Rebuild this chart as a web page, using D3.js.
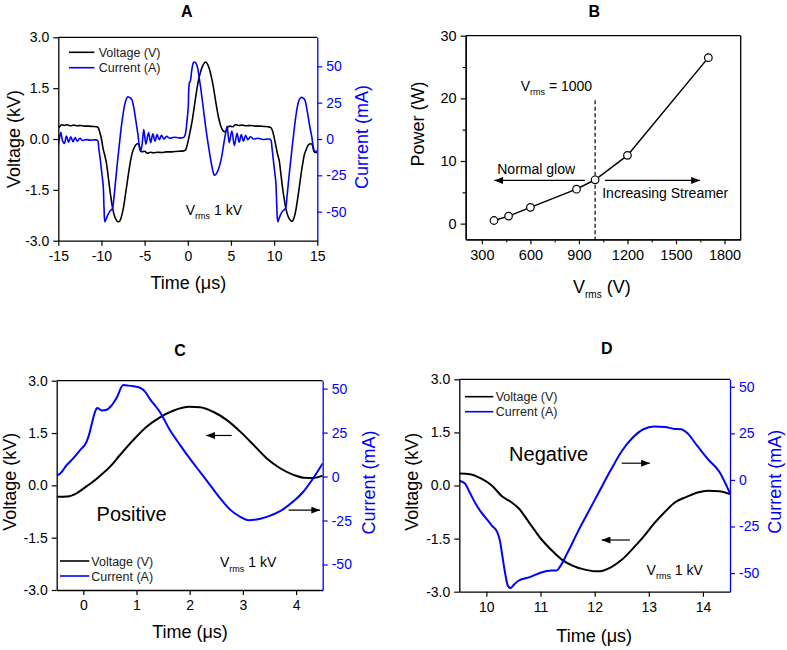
<!DOCTYPE html>
<html><head><meta charset="utf-8">
<script src="https://cdn.jsdelivr.net/npm/d3@7"></script>
<style>
body{margin:0;background:#fff;}
svg{font-family:"Liberation Sans",Arial,Helvetica,sans-serif;}
</style></head><body>
<svg id="chart" width="787" height="650"></svg>
<script>
// ---------- DATA ----------
const voltTicks = [-3, -1.5, 0, 1.5, 3];
const currTicks = [-50, -25, 0, 25, 50];
const timeTicksA = [-15, -10, -5, 0, 5, 10, 15];
const timeTicksC = [0, 1, 2, 3, 4];
const timeTicksD = [10, 11, 12, 13, 14];

const panelAVoltage = [[-15,0.33],[-14.8,0.38],[-14.6,0.42],[-14.3,0.40],[-14.0,0.42],[-13.6,0.39],[-13.2,0.41],[-12.8,0.39],[-12.4,0.40],[-12.0,0.38],[-11.5,0.38],[-11.0,0.37],[-10.6,0.36],[-10.4,0.34],[-10.2,0.2],[-10.0,0.0],[-9.8,-0.3],[-9.6,-0.5],[-9.4,-0.75],[-9.2,-1.15],[-9.0,-1.55],[-8.8,-1.9],[-8.6,-2.17],[-8.4,-2.33],[-8.2,-2.42],[-8.0,-2.44],[-7.8,-2.38],[-7.6,-2.2],[-7.4,-1.95],[-7.2,-1.6],[-7.0,-1.25],[-6.8,-0.9],[-6.6,-0.6],[-6.4,-0.38],[-6.2,-0.25],[-6.0,-0.17],[-5.8,-0.14],[-5.65,-0.17],[-5.5,-0.33],[-5.3,-0.38],[-5.0,-0.36],[-4.7,-0.42],[-4.3,-0.39],[-4.0,-0.41],[-3.5,-0.39],[-3.0,-0.40],[-2.5,-0.38],[-2.0,-0.38],[-1.5,-0.37],[-1.0,-0.36],[-0.5,-0.35],[-0.25,-0.32],[0,-0.1],[0.25,0.2],[0.5,0.53],[0.75,0.95],[1.0,1.38],[1.25,1.75],[1.5,2.0],[1.75,2.17],[2.05,2.27],[2.3,2.2],[2.55,2.02],[2.8,1.75],[3.05,1.4],[3.3,1.0],[3.55,0.65],[3.8,0.4],[4.05,0.26],[4.3,0.21],[4.5,0.26],[4.65,0.36],[4.9,0.38],[5.2,0.36],[5.5,0.42],[5.9,0.40],[6.3,0.41],[6.8,0.39],[7.3,0.40],[7.8,0.38],[8.3,0.38],[8.8,0.37],[9.3,0.36],[9.6,0.34],[9.8,0.25],[10.0,0.05],[10.2,-0.2],[10.4,-0.45],[10.6,-0.65],[10.8,-1.07],[11.0,-1.49],[11.2,-1.82],[11.4,-2.1],[11.6,-2.27],[11.8,-2.37],[12.05,-2.43],[12.3,-2.33],[12.5,-2.12],[12.7,-1.8],[12.9,-1.45],[13.1,-1.07],[13.3,-0.74],[13.5,-0.46],[13.7,-0.32],[13.9,-0.2],[14.1,-0.15],[14.3,-0.14],[14.45,-0.2],[14.6,-0.36],[14.8,-0.4],[15,-0.4]];

const panelACurrent = [[-15,-4],[-14.85,1],[-14.7,4.5],[-14.5,-1.5],[-14.3,-3],[-14.05,2],[-13.8,-2.2],[-13.55,1.5],[-13.3,-1.8],[-13.05,1],[-12.8,-1.5],[-12.5,0.5],[-12.2,-1],[-11.8,-0.4],[-11.3,-0.8],[-10.8,-0.6],[-10.45,-1],[-10.3,-7],[-10.1,-16],[-9.95,-24],[-9.8,-32],[-9.7,-48],[-9.6,-57],[-9.45,-55],[-9.25,-52],[-9.0,-49.5],[-8.75,-48],[-8.55,-40],[-8.35,-28],[-8.15,-16],[-7.95,-5],[-7.75,6],[-7.55,15],[-7.35,22.5],[-7.15,27],[-6.95,29],[-6.75,28.6],[-6.5,27.3],[-6.3,23],[-6.1,16],[-5.9,8],[-5.75,2],[-5.6,-6],[-5.48,-8.5],[-5.3,-4],[-5.1,6.5],[-4.85,-3.5],[-4.55,4.5],[-4.3,-2.5],[-4.05,3.5],[-3.8,-1.5],[-3.55,3],[-3.3,-0.5],[-3.05,2.5],[-2.75,0],[-2.45,1.8],[-2.1,0.5],[-1.6,1.2],[-1.0,0.8],[-0.5,1],[-0.3,3],[-0.1,12],[0.05,22],[0.12,35],[0.2,39],[0.3,40],[0.45,47],[0.65,52.5],[0.8,53],[1.0,51.5],[1.15,48.5],[1.3,43],[1.5,35],[1.8,21],[2.1,7],[2.4,-5],[2.7,-16],[2.95,-23],[3.1,-25],[3.3,-24],[3.6,-20],[3.9,-13],[4.15,-4],[4.35,3],[4.55,8.6],[4.8,-2.5],[5.1,5.5],[5.4,-4.5],[5.7,4],[5.95,-2.2],[6.2,3],[6.45,-1.5],[6.7,2.5],[6.95,-0.5],[7.25,1.5],[7.6,0],[8.1,0.5],[8.7,-0.3],[9.3,0],[9.6,-0.5],[9.75,-6],[9.9,-14],[10.05,-22],[10.2,-30],[10.3,-45],[10.42,-57],[10.55,-55],[10.75,-52],[11.0,-49.5],[11.3,-48],[11.5,-39],[11.7,-27],[11.9,-16],[12.1,-5],[12.3,5.5],[12.5,15],[12.7,22.5],[12.9,27],[13.1,28.6],[13.3,28.4],[13.55,27],[13.75,22],[13.95,15],[14.15,8],[14.35,2],[14.55,-6],[14.7,-8.5],[15,-8]];

const powerVrms = [375, 465, 600, 885, 1000, 1200, 1700];
const powerWatts = [0.5, 1.2, 2.6, 5.5, 7.0, 10.9, 26.5];
const powerXTicks = [300, 600, 900, 1200, 1500, 1800];
const powerXMinor = [450, 750, 1050, 1350, 1650];
const powerYTicks = [0, 10, 20, 30];
const powerYMinor = [5, 15, 25];

const panelCVoltage = [[-0.5,-0.33],[-0.3,-0.32],[-0.12,-0.22],[0.06,-0.03],[0.25,0.19],[0.31,0.27],[0.5,0.53],[0.69,0.87],[0.94,1.3],[1.19,1.68],[1.44,1.95],[1.69,2.14],[2.0,2.25],[2.19,2.24],[2.44,2.11],[2.7,1.87],[2.95,1.54],[3.2,1.16],[3.45,0.77],[3.7,0.49],[3.95,0.30],[4.14,0.22],[4.32,0.21],[4.5,0.28]];
const panelCCurrent = [[-0.5,0.6],[-0.44,1.5],[-0.31,6.6],[-0.19,10.3],[-0.06,15],[0.06,19.7],[0.11,24],[0.16,30],[0.22,36.7],[0.26,39],[0.35,37.6],[0.44,38],[0.53,40.4],[0.63,45],[0.75,52],[0.85,51.7],[0.94,51.3],[1.07,50.4],[1.16,48.3],[1.25,44.2],[1.44,36.7],[1.63,26.3],[1.82,17.9],[2.0,10.3],[2.19,2.8],[2.38,-4.7],[2.57,-12.2],[2.76,-18.8],[2.95,-22.9],[3.1,-24.8],[3.26,-24.4],[3.45,-22.9],[3.7,-19.7],[3.95,-14.1],[4.14,-8.5],[4.3,-1.9],[4.5,7.5]];

const panelDVoltage = [[9.5,0.34],[9.7,0.32],[9.9,0.2],[10.1,0.0],[10.3,-0.32],[10.45,-0.46],[10.6,-0.65],[10.8,-1.07],[11.0,-1.49],[11.2,-1.82],[11.4,-2.1],[11.6,-2.27],[11.8,-2.37],[12.0,-2.42],[12.1,-2.42],[12.3,-2.31],[12.5,-2.1],[12.7,-1.79],[12.9,-1.45],[13.1,-1.07],[13.3,-0.74],[13.5,-0.46],[13.7,-0.32],[13.9,-0.2],[14.1,-0.15],[14.3,-0.16],[14.5,-0.24]];
const panelDCurrent = [[9.5,-0.4],[9.6,-1.8],[9.7,-7.2],[9.8,-12.7],[9.9,-17.2],[10.0,-20.8],[10.1,-24.5],[10.2,-28],[10.25,-32.6],[10.3,-41.7],[10.35,-50.7],[10.4,-57],[10.45,-58],[10.5,-56.5],[10.6,-54],[10.8,-52.2],[11.0,-49.8],[11.2,-48.6],[11.3,-48.6],[11.35,-47],[11.5,-39],[11.7,-27.2],[11.9,-16.3],[12.1,-5.4],[12.3,5.4],[12.5,15.4],[12.7,22.6],[12.9,27.2],[13.1,28.6],[13.3,28.4],[13.45,27.5],[13.6,27.2],[13.7,25.4],[13.9,18.1],[14.1,10.9],[14.3,4.5],[14.5,-7.2]];

// ---------- DRAWING ----------
const svg = d3.select("#chart");
const BLUE = "#0000ff";
const FONT = "Liberation Sans, Arial, Helvetica, sans-serif";

const defs = svg.append("defs");
defs.append("marker").attr("id","arrow").attr("viewBox","0 0 10 8")
  .attr("refX",10).attr("refY",4).attr("markerWidth",9).attr("markerHeight",7)
  .attr("markerUnits","userSpaceOnUse").attr("orient","auto")
  .append("path").attr("d","M0,0L10,4L0,8Z").attr("fill","#000");

function styleAxis(g, color) {
  g.attr("font-family", FONT).attr("font-size", 14).attr("color", color);
  g.selectAll("path.domain").attr("stroke-width", 1.3);
  g.selectAll(".tick line").attr("stroke-width", 1.2);
}

function subLabel(parent, x, y, size, subSize, pre, sub, post, anchor) {
  const t = parent.append("text").attr("x", x).attr("y", y)
    .attr("font-size", size).attr("text-anchor", anchor || "start").attr("fill", "#000");
  t.append("tspan").text(pre);
  t.append("tspan").attr("font-size", subSize).attr("dy", size*0.3).text(sub);
  t.append("tspan").attr("dy", -size*0.3).text(post);
  return t;
}

function arrow(g, x1, y1, x2, y2) {
  g.append("line").attr("x1",x1).attr("y1",y1).attr("x2",x2).attr("y2",y2)
    .attr("stroke","#000").attr("stroke-width",1.2).attr("marker-end","url(#arrow)");
}

function dualPanel(o) {
  const g = svg.append("g");
  const x = d3.scaleLinear().domain(o.xDomain).range([o.l, o.r]);
  const yV = d3.scaleLinear().domain([-3, 3]).range([o.b, o.t]);
  const yI = d3.scaleLinear().domain(o.iDomain).range([o.b, o.t]);
  const clip = "clip" + o.id;
  defs.append("clipPath").attr("id", clip).append("rect")
    .attr("x", o.l).attr("y", o.t).attr("width", o.r - o.l).attr("height", o.b - o.t);

  const lineV = d3.line().x(d => x(d[0])).y(d => yV(d[1])).curve(d3.curveMonotoneX);
  const lineI = d3.line().x(d => x(d[0])).y(d => yI(d[1])).curve(o.iCurve || d3.curveMonotoneX);
  const plot = g.append("g").attr("clip-path", `url(#${clip})`);
  plot.append("path").datum(o.volt).attr("d", lineV).attr("fill","none")
    .attr("stroke","#000").attr("stroke-width", o.lw);
  plot.append("path").datum(o.curr).attr("d", lineI).attr("fill","none")
    .attr("stroke",BLUE).attr("stroke-width", o.lw);

  g.append("line").attr("x1", o.l).attr("x2", o.r).attr("y1", o.t).attr("y2", o.t)
    .attr("stroke","#000").attr("stroke-width",1.3);

  const ax = g.append("g").attr("transform", `translate(0,${o.b})`)
    .call(d3.axisBottom(x).tickValues(o.xTicks).tickSize(5).tickSizeOuter(0).tickPadding(5).tickFormat(d => String(d)));
  styleAxis(ax, "#000");
  const al = g.append("g").attr("transform", `translate(${o.l},0)`)
    .call(d3.axisLeft(yV).tickValues(voltTicks).tickSize(5).tickSizeOuter(0).tickPadding(4).tickFormat(d => d.toFixed(1)));
  styleAxis(al, "#000");
  const ar = g.append("g").attr("transform", `translate(${o.r},0)`)
    .call(d3.axisRight(yI).tickValues(currTicks).tickSize(5).tickSizeOuter(0).tickPadding(4).tickFormat(d => String(d)));
  styleAxis(ar, BLUE);

  g.append("text").attr("transform", `translate(${o.vLab[0]},${o.vLab[1]}) rotate(-90)`)
    .attr("text-anchor","middle").attr("dy","0.35em").attr("font-size",18).text("Voltage (kV)");
  g.append("text").attr("transform", `translate(${o.iLab[0]},${o.iLab[1]}) rotate(-90)`)
    .attr("text-anchor","middle").attr("dy","0.35em").attr("font-size",18).attr("fill",BLUE).text("Current (mA)");
  g.append("text").attr("x", o.tLab[0]).attr("y", o.tLab[1]).attr("text-anchor","middle")
    .attr("font-size",18).text("Time (\u03bcs)");
  g.append("text").attr("x", o.title[0]).attr("y", o.title[1]).attr("text-anchor","middle")
    .attr("font-size",16).attr("font-weight","bold").text(o.titleText);

  const L = o.legend;
  [["Voltage (V)","#000"],["Current (A)",BLUE]].forEach((it, i) => {
    const yy = L.y + i * L.dy;
    g.append("line").attr("x1", L.x1).attr("x2", L.x2).attr("y1", yy).attr("y2", yy)
      .attr("stroke", it[1]).attr("stroke-width", 1.6);
    g.append("text").attr("x", L.tx).attr("y", yy).attr("dy","0.36em")
      .attr("font-size",12.5).attr("fill","#222").text(it[0]);
  });

  subLabel(g, x(o.vrms[0]), yV(o.vrms[1]), 14, 9, "V", "rms", " 1 kV");
  return {g, x, yV, yI};
}

// Panel A
dualPanel({
  id:"A", l:58.3, r:317.3, t:37.3, b:240.7,
  xDomain:[-15,15], iDomain:[-70,70], xTicks:timeTicksA,
  volt:panelAVoltage, curr:panelACurrent, lw:1.6, iCurve:d3.curveCatmullRom.alpha(0.5),
  vLab:[13.5,139], iLab:[361.5,137], tLab:[188.3,289], title:[186.7,17], titleText:"A",
  legend:{x1:69, x2:94.3, tx:98.7, y:52.3, dy:15.4},
  vrms:[-0.24,-2.24]
});

// Panel C
const pC = dualPanel({
  id:"C", l:56.7, r:322.7, t:380.7, b:590,
  xDomain:[-0.5,4.5], iDomain:[-64.5,54.5], xTicks:timeTicksC,
  volt:panelCVoltage, curr:panelCCurrent, lw:2,
  vLab:[10,481.7], iLab:[368.3,482.5], tLab:[190,637.5], title:[180,355.5], titleText:"C",
  legend:{x1:60, x2:89.3, tx:91.3, y:561, dy:15},
  vrms:[2.57,-2.35]
});
pC.g.append("text").attr("x", pC.x(0.25)).attr("y", pC.yV(-1.02)).attr("font-size",20).text("Positive");
arrow(pC.g, pC.x(2.79), pC.yV(1.43), pC.x(2.31), pC.yV(1.43));
arrow(pC.g, pC.x(3.86), pC.yV(-0.71), pC.x(4.45), pC.yV(-0.71));

// Panel D
const pD = dualPanel({
  id:"D", l:459.3, r:730, t:379.3, b:591.7,
  xDomain:[9.5,14.5], iDomain:[-60,54], xTicks:timeTicksD,
  volt:panelDVoltage, curr:panelDCurrent, lw:2,
  vLab:[411.7,481.7], iLab:[775,481.7], tLab:[594.2,641.7], title:[606.7,354], titleText:"D",
  legend:{x1:465, x2:493.3, tx:495.7, y:396.7, dy:15},
  vrms:[12.96,-2.53]
});
pD.g.append("text").attr("x", pD.x(10.42)).attr("y", pD.yV(0.70)).attr("font-size",20).text("Negative");
arrow(pD.g, pD.x(12.5), pD.yV(0.63), pD.x(13.02), pD.yV(0.63));
arrow(pD.g, pD.x(12.65), pD.yV(-1.54), pD.x(12.13), pD.yV(-1.54));

// Panel B
(function(){
  const l=465.7, r=740.7, t=35.7, b=239.3;
  const g = svg.append("g");
  const x = d3.scaleLinear().domain([200,1900]).range([l,r]);
  const y = d3.scaleLinear().domain([-2.5,30]).range([b,t]);
  const pts = powerVrms.map((v,i)=>[v, powerWatts[i]]);

  g.append("line").attr("x1",l).attr("x2",r).attr("y1",t).attr("y2",t).attr("stroke","#000").attr("stroke-width",1.3);
  g.append("line").attr("x1",r).attr("x2",r).attr("y1",t).attr("y2",b).attr("stroke","#000").attr("stroke-width",1.3);

  const ax = g.append("g").attr("transform",`translate(0,${b})`)
    .call(d3.axisBottom(x).tickValues(powerXTicks).tickSize(5).tickSizeOuter(0).tickPadding(5).tickFormat(d=>String(d)));
  styleAxis(ax,"#000");
  ax.attr("font-size",14.5);
  const axm = g.append("g").attr("transform",`translate(0,${b})`)
    .call(d3.axisBottom(x).tickValues(powerXMinor).tickSize(3).tickSizeOuter(0).tickFormat(""));
  styleAxis(axm,"#000");
  const ay = g.append("g").attr("transform",`translate(${l},0)`)
    .call(d3.axisLeft(y).tickValues(powerYTicks).tickSize(5).tickSizeOuter(0).tickPadding(4).tickFormat(d=>String(d)));
  styleAxis(ay,"#000");
  ay.attr("font-size",14.5);
  const aym = g.append("g").attr("transform",`translate(${l},0)`)
    .call(d3.axisLeft(y).tickValues(powerYMinor).tickSize(3).tickSizeOuter(0).tickFormat(""));
  styleAxis(aym,"#000");

  g.append("line").attr("x1",x(1000)).attr("x2",x(1000)).attr("y1",y(19.7)).attr("y2",b)
    .attr("stroke","#000").attr("stroke-width",1.2).attr("stroke-dasharray","4,2.5");

  g.append("path").datum(pts).attr("d", d3.line().x(d=>x(d[0])).y(d=>y(d[1])))
    .attr("fill","none").attr("stroke","#000").attr("stroke-width",1.5);
  g.selectAll("circle").data(pts).enter().append("circle")
    .attr("cx",d=>x(d[0])).attr("cy",d=>y(d[1])).attr("r",3.8)
    .attr("fill","#fff").attr("stroke","#000").attr("stroke-width",1.2);

  subLabel(g, x(540), y(21.2), 14, 9, "V", "rms", " = 1000");
  g.append("text").attr("x", x(395)).attr("y", y(7.9)).attr("font-size",14).text("Normal glow");
  g.append("text").attr("x", x(1044)).attr("y", y(4.04)).attr("font-size",14).text("Increasing Streamer");
  arrow(g, x(937), y(6.9), x(377), y(6.9));
  arrow(g, x(1061), y(6.9), x(1648), y(6.9));

  g.append("text").attr("transform",`translate(417.5,124) rotate(-90)`).attr("text-anchor","middle")
    .attr("dy","0.35em").attr("font-size",18).text("Power (W)");
  subLabel(g, 573, 293, 18, 10, "V", "rms", " (V)");
  g.append("text").attr("x",594.3).attr("y",17).attr("text-anchor","middle")
    .attr("font-size",16).attr("font-weight","bold").text("B");
})();
</script>
</body></html>
